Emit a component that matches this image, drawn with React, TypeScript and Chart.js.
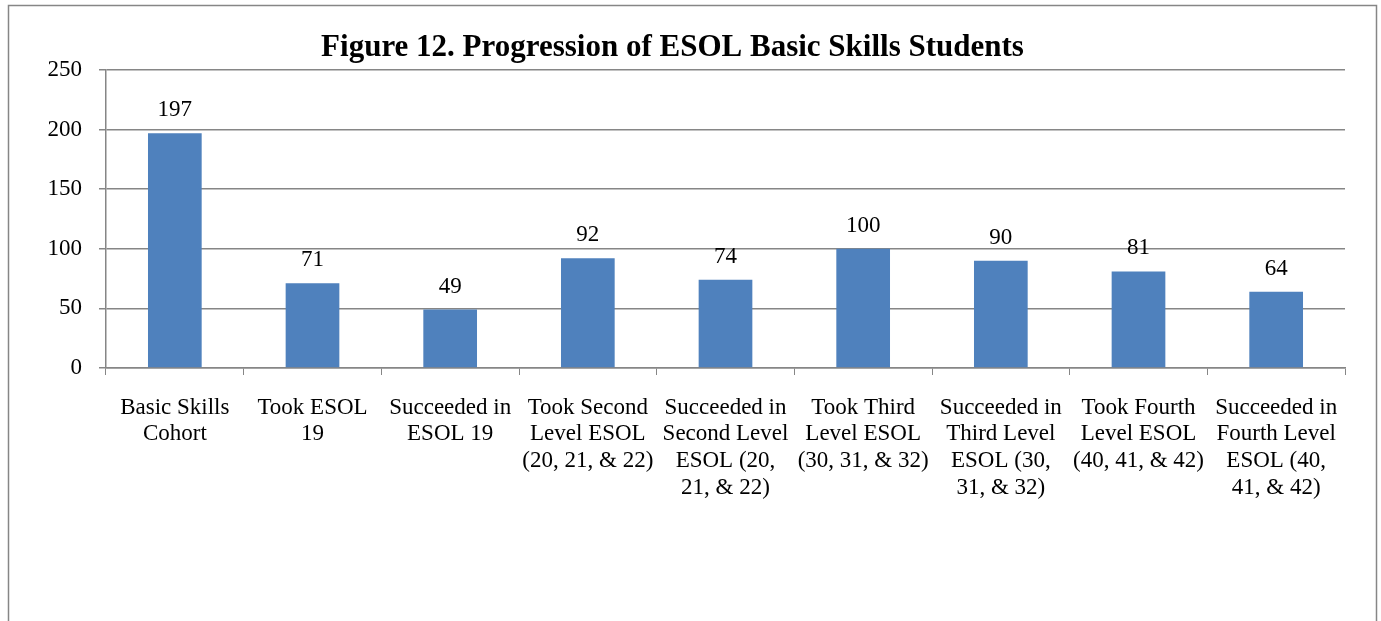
import React, { useEffect, useRef } from "react";
import { Chart, registerables } from "chart.js";

Chart.register(...registerables);

const categories: string[][] = [
  ["Basic Skills", "Cohort"],
  ["Took ESOL", "19"],
  ["Succeeded in", "ESOL 19"],
  ["Took Second", "Level ESOL", "(20, 21, & 22)"],
  ["Succeeded in", "Second Level", "ESOL (20,", "21, & 22)"],
  ["Took Third", "Level ESOL", "(30, 31, & 32)"],
  ["Succeeded in", "Third Level", "ESOL (30,", "31, & 32)"],
  ["Took Fourth", "Level ESOL", "(40, 41, & 42)"],
  ["Succeeded in", "Fourth Level", "ESOL (40,", "41, & 42)"],
];

const studentCounts: number[] = [197, 71, 49, 92, 74, 100, 90, 81, 64];

const chartTitle = "Figure 12. Progression of ESOL Basic Skills Students";

const SERIF = "'Liberation Serif', 'Times New Roman', serif";
const GRAY = "#868686";

const framePlugin = {
  id: "frame",
  beforeDraw(chart: any) {
    const ctx = chart.ctx;
    ctx.save();
    ctx.fillStyle = "#ffffff";
    ctx.fillRect(0, 0, chart.width, chart.height);
    ctx.strokeStyle = GRAY;
    ctx.lineWidth = 1.5;
    ctx.strokeRect(8.5, 5.5, 1368, 700);
    ctx.restore();
  },
};

const valueLabelPlugin = {
  id: "valueLabels",
  afterDatasetsDraw(chart: any) {
    const ctx = chart.ctx;
    const meta = chart.getDatasetMeta(0);
    const data = chart.data.datasets[0].data as number[];
    ctx.save();
    ctx.fillStyle = "#000000";
    ctx.font = `23px ${SERIF}`;
    ctx.textAlign = "center";
    ctx.textBaseline = "alphabetic";
    meta.data.forEach((bar: any, i: number) => {
      ctx.fillText(String(data[i]), bar.x, bar.y - 17);
    });
    ctx.restore();
  },
};

export default function App() {
  const canvasRef = useRef<HTMLCanvasElement | null>(null);

  useEffect(() => {
    const canvas = canvasRef.current;
    if (!canvas) return;
    const chart = new Chart(canvas, {
      type: "bar",
      data: {
        labels: categories,
        datasets: [
          {
            data: studentCounts,
            backgroundColor: "#4F81BD",
            borderWidth: 0,
            barPercentage: 0.39,
            categoryPercentage: 1,
          },
        ],
      },
      options: {
        responsive: false,
        animation: false,
        devicePixelRatio: 1,
        layout: { padding: { left: 0, right: 36, top: 0, bottom: 0 } },
        plugins: {
          legend: { display: false },
          tooltip: { enabled: false },
          title: {
            display: true,
            text: chartTitle,
            color: "#000000",
            font: { family: SERIF, size: 31, weight: "bold", lineHeight: 1.2 },
            padding: { top: 29.4, bottom: 3.4 },
          },
        },
        scales: {
          x: {
            offset: true,
            grid: {
              offset: true,
              drawOnChartArea: false,
              drawTicks: true,
              tickLength: 7,
              color: GRAY,
            },
            border: { color: GRAY, width: 1.5 },
            ticks: {
              color: "#000000",
              font: { family: SERIF, size: 23, lineHeight: 1.17 },
              padding: 19,
              maxRotation: 0,
              autoSkip: false,
            },
            afterFit(scale: any) {
              scale.height = 621 - 368;
            },
          },
          y: {
            min: 0,
            max: 250,
            ticks: {
              stepSize: 50,
              color: "#000000",
              font: { family: SERIF, size: 23 },
              padding: 17,
            },
            grid: {
              color: GRAY,
              lineWidth: 1.5,
              drawTicks: true,
              tickLength: 7,
            },
            border: { color: GRAY, width: 1.5 },
            afterFit(scale: any) {
              scale.width = 106;
            },
          },
        },
      },
      plugins: [framePlugin, valueLabelPlugin],
    });
    return () => chart.destroy();
  }, []);

  return (
    <canvas
      ref={canvasRef}
      width={1381}
      height={621}
      style={{ position: "fixed", left: 0, top: 0, width: 1381, height: 621, display: "block" }}
    />
  );
}
